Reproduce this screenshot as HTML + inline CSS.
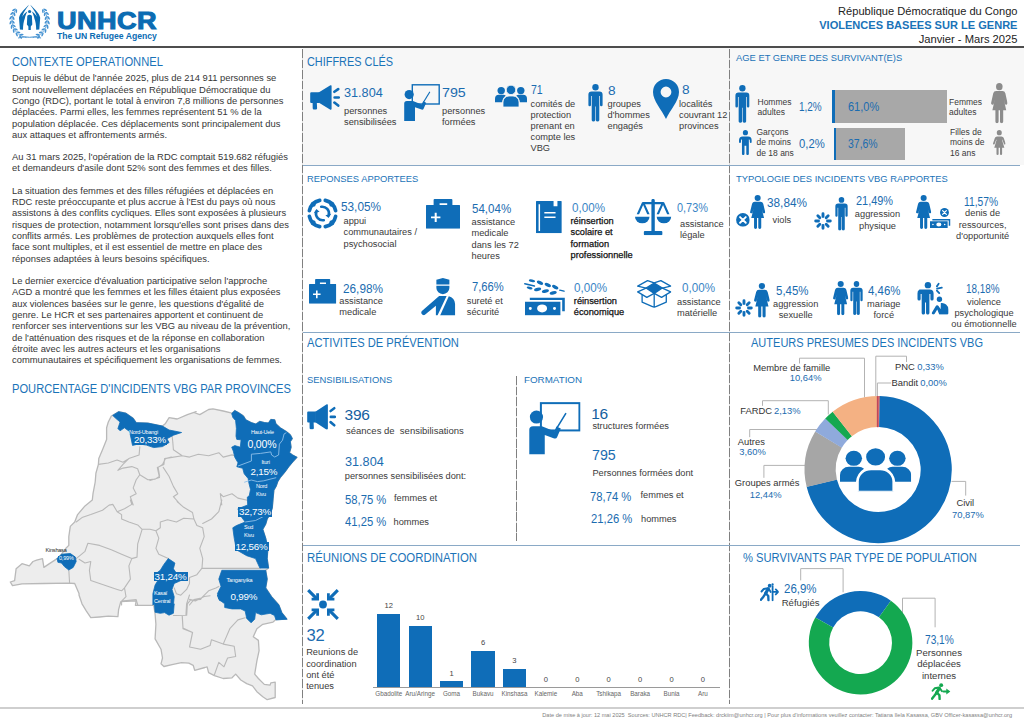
<!DOCTYPE html>
<html lang="fr">
<head>
<meta charset="utf-8">
<title>VBG RDC</title>
<style>
*{margin:0;padding:0;box-sizing:border-box}
html,body{width:1024px;height:724px;overflow:hidden;background:#fff}
body{position:relative;font-family:"Liberation Sans",sans-serif;color:#2b2b2b;font-size:9px}
.a{position:absolute;white-space:nowrap;line-height:1}
.b{color:#1a73b8}
.h1{font-size:11.2px;color:#1a73b8;letter-spacing:0}
.h2{font-size:9.4px;color:#1a73b8}
.n{font-size:13.6px;color:#1b6cb0;letter-spacing:0;transform:scaleX(.9);transform-origin:0 50%}
.t{font-size:9.25px;color:#3a3a3a;line-height:11px}
.hl{position:absolute;height:1px;background:#8aa9c6}
.vd{position:absolute;width:1.2px;background:repeating-linear-gradient(to bottom,#808080 0,#808080 8.6px,rgba(128,128,128,.25) 8.6px,rgba(128,128,128,.25) 10.5px)}
svg{position:absolute;overflow:visible}
.p{position:absolute;left:12px;width:286px;font-size:9.4px;line-height:11.35px;color:#363636;white-space:nowrap}
.ml{position:absolute;white-space:nowrap;line-height:1;color:#fff;letter-spacing:-0.2px}
</style>
</head>
<body>
<svg width="0" height="0" style="position:absolute">
<defs>
<!-- megaphone 30x25 -->
<symbol id="meg" viewBox="0 0 30 25" preserveAspectRatio="none">
 <path d="M1.2 7.3h8v10.6h-8a1 1 0 0 1-1-1v-8.6a1 1 0 0 1 1-1z"/>
 <path d="M2.6 17h4.2l0.3 6.3a1.2 1.2 0 0 1-1.2 1.2h-2a1.2 1.2 0 0 1-1.2-1.2z"/>
 <path d="M8.6 7.6L20 0.4a1 1 0 0 1 1.6.8v22.6a1 1 0 0 1-1.6.8L8.6 17.6z"/>
 <g stroke="currentColor" stroke-width="2.6" stroke-linecap="round" fill="none"><path d="M24.4 6.800l3.800-2.700M24.600 12.500h4.200M24.400 17.600l3.800 3"/></g>
</symbol>
<!-- teacher 36x37 -->
<symbol id="teach" viewBox="0 0 36 37" preserveAspectRatio="none">
 <rect x="8.3" y="0.8" width="26.9" height="19.2" fill="none" stroke="currentColor" stroke-width="1.4"/>
 <circle cx="5.2" cy="10.6" r="4.6"/>
 <path d="M0.2 37V19.6a2.6 2.6 0 0 1 2.6-2.6h6.2l8.6 3.6 1.6-3.4 3 1.5-2.6 6.1a1.6 1.6 0 0 1-2 .8l-6.6-2.4V37z"/>
 <path d="M19.4 18.4L25.6 8.2" stroke="currentColor" stroke-width="1.1" stroke-linecap="round"/>
</symbol>
<!-- group 32x22 -->
<symbol id="grp" viewBox="0 0 32 22" preserveAspectRatio="none">
 <circle cx="6.2" cy="5.6" r="3.7"/><circle cx="25.8" cy="5.6" r="3.7"/>
 <path d="M0 17.2v-3.4a4 4 0 0 1 4-4h4.4a4 4 0 0 1 2.4.9a8.400 8.400 0 0 0-3.600 6.500z"/>
 <path d="M32 17.2v-3.4a4 4 0 0 0-4-4h-4.4a4 4 0 0 0-2.4.9a8.400 8.400 0 0 1 3.600 6.500z"/>
 <circle cx="16" cy="4.900" r="4.700" stroke="#f7f7f7" stroke-width="0.8"/>
 <path d="M8 22v-5a6 6 0 0 1 6-6h4a6 6 0 0 1 6 6v5z" stroke="#f7f7f7" stroke-width="0.8"/>
</symbol>
<!-- man 15x38 -->
<symbol id="man" viewBox="0 0 15 38" preserveAspectRatio="none">
 <circle cx="7.5" cy="3.3" r="3.200"/>
 <path d="M3.600 7.400h7.800a3.200 3.200 0 0 1 3.200 3.200v10.400a1.300 1.300 0 0 1-2.600 0v-9h-0.700v24.200a1.800 1.800 0 0 1-3.500 0v-13.600h-0.600v13.600a1.800 1.800 0 0 1-3.500 0v-24.200h-0.700v9a1.300 1.300 0 0 1-2.600 0v-10.400a3.200 3.200 0 0 1 3.200-3.200z"/>
</symbol>
<!-- woman 17x38 -->
<symbol id="wom" viewBox="0 0 17 38" preserveAspectRatio="none">
 <circle cx="8.5" cy="3.4" r="3.35"/>
 <path d="M5.300 7.500h6.400a3.100 3.100 0 0 1 3 2.200l2.200 9a1.400 1.400 0 0 1-2.700.700l-1.300-4.800l2.700 11h-3.100v10.500a1.650 1.650 0 0 1-3.300 0v-10.500h-1.400v10.500a1.650 1.650 0 0 1-3.300 0v-10.500h-3.100l2.700-11l-1.300 4.800a1.400 1.400 0 0 1-2.700-.700l2.200-9a3.100 3.100 0 0 1 3-2.200z"/>
</symbol>
<!-- pin 26x40 -->
<symbol id="pin" viewBox="0 0 26 40" preserveAspectRatio="none">
 <path fill-rule="evenodd" d="M13 0a13 13 0 0 1 13 13c0 9-9 18-13 27c-4-9-13-18-13-27a13 13 0 0 1 13-13zM13 7.600a5.400 5.400 0 1 0 0 10.800a5.400 5.400 0 1 0 0-10.800z"/>
</symbol>
<symbol id="comm" viewBox="0 0 31 31" preserveAspectRatio="none"><path d="M28.61 18.29A13.4 13.4 0 0 1 18.29 28.61" fill="none" stroke="currentColor" stroke-width="3.7" stroke-linecap="round"/><circle cx="24.83" cy="24.83" r="2.5"/><path d="M12.71 28.61A13.4 13.4 0 0 1 2.39 18.29" fill="none" stroke="currentColor" stroke-width="3.7" stroke-linecap="round"/><circle cx="6.17" cy="24.83" r="2.5"/><path d="M2.39 12.71A13.4 13.4 0 0 1 12.71 2.39" fill="none" stroke="currentColor" stroke-width="3.7" stroke-linecap="round"/><circle cx="6.17" cy="6.17" r="2.5"/><path d="M18.29 2.39A13.4 13.4 0 0 1 28.61 12.71" fill="none" stroke="currentColor" stroke-width="3.7" stroke-linecap="round"/><circle cx="24.83" cy="6.17" r="2.5"/><path d="M14.2 8.8a6.8 6.8 0 0 1 7.6 8.4" fill="none" stroke="currentColor" stroke-width="2.6" stroke-linecap="round"/><path d="M18.4 17.2l3.2 2.8l2.6-4.2z"/><path d="M16.8 22.2a6.8 6.8 0 0 1-7.6-8.4" fill="none" stroke="currentColor" stroke-width="2.6" stroke-linecap="round"/><path d="M12.600 13.800l-3.200-2.800l-2.600 4.200z"/></symbol><symbol id="burst" viewBox="0 0 18 18" preserveAspectRatio="none"><path d="M13.50 9.00L16.30 9.00M12.18 12.18L14.16 14.16M9.00 13.50L9.00 16.30M5.82 12.18L3.84 14.16M4.50 9.00L1.70 9.00M5.82 5.82L3.84 3.84M9.00 4.50L9.00 1.70M12.18 5.82L14.16 3.84" fill="none" stroke="currentColor" stroke-width="2.9" stroke-linecap="round"/></symbol>
<!-- medkit 34x30 -->
<symbol id="kit" viewBox="0 0 34 30" preserveAspectRatio="none">
 <path fill-rule="evenodd" d="M9 0h16.400a1 1 0 0 1 1 1v5h7a.6.6 0 0 1 .6.600v22.800a.6.6 0 0 1-.6.600h-32.800a.6.6 0 0 1-.6-.600v-22.800a.6.600 0 0 1 .6-.600h7v-5a1 1 0 0 1 1-1z
 M13.600 4.300h7.600v1.700h-7.600z M8.700 13.800h2v3.700h3.700v2h-3.700v3.700h-2v-3.700h-3.700v-2h3.700z"/>
</symbol>
<!-- doc 26x33 -->
<symbol id="doc" viewBox="0 0 26 33" preserveAspectRatio="none">
 <path fill-rule="evenodd" d="M0.500 0h17.200v5.400h3.900v-5.400h3.900a.5.500 0 0 1 .5.500v32a.5.500 0 0 1-.5.500h-25a.5.500 0 0 1-.5-.500v-32a.5.500 0 0 1 .5-.500z M2.600 3.400h1.500v27.200h-1.500z M8.400 11.200h11.300v1.500h-11.300z M8.400 15.800h11.300v1.500h-11.300z"/>
</symbol>
<!-- scales 37x36 -->
<symbol id="scal" viewBox="0 0 37 36" preserveAspectRatio="none">
 <path d="M16.500 1.600a1.700 1.700 0 0 1 3.400 0v1.400h8.600l0.900 0.500l5.300 11.700h-2.400l-4.100-9.200l-4.100 9.200h-2.400l4.600-9.900h-6.400v26.500h6.600a1 1 0 0 1 1 1v2.200a1 1 0 0 1-1 1h-16.600a1 1 0 0 1-1-1v-2.200a1 1 0 0 1 1-1h6.600v-26.500h-6.400l4.600 9.900h-2.400l-4.100-9.200l-4.100 9.200h-2.400l5.300-11.700l0.900-0.500h8.600z"/>
 <path d="M0 17.600h14.600a7.300 6.600 0 0 1-14.600 0z"/>
 <path d="M21.800 17.600h14.600a7.300 6.600 0 0 1-14.600 0z"/>
</symbol>
<!-- officer 35x38 -->
<symbol id="offi" viewBox="0 0 35 38" preserveAspectRatio="none">
 <path d="M15.600 1.800l6.600-1.800l6.600 1.800v4.800h-13.200z"/>
 <path d="M15.600 7.900h13.200v2.300a6.600 6.200 0 0 1-13.200 0z"/>
 <path d="M18.400 18.400h7.600l-9.300 19.600h-1.600v-9.800l-10.800 9a2.500 2.500 0 0 1-3.400-3.600z"/>
 <path d="M28.200 18.500a8 8 0 0 1 6.400 7.800v11.700h-15.200z"/>
</symbol>
<!-- money+wheat 41x37 -->
<symbol id="mon" viewBox="0 0 41 37" preserveAspectRatio="none">
 <path fill-rule="evenodd" d="M1 23h35.400v13.400h-35.400z M18.100 25.600a5 4 0 1 0 0 8a5 4 0 1 0 0-8z M6.300 28.200a1.500 1.500 0 1 0 0 3a1.500 1.500 0 1 0 0-3z M30.500 28.200a1.500 1.500 0 1 0 0 3a1.500 1.500 0 1 0 0-3z"/>
 <path d="M5.800 18.800h35v13.600h-2.600v-11.200h-32.400z"/>
 <g stroke="currentColor" stroke-width="1.500" stroke-linecap="round" fill="none"><path d="M0.800 4.800l9.600 2.200M35.800 11.200l4.200 1.000"/></g>
 <g>
  <ellipse cx="8" cy="1.800" rx="3.200" ry="1.300" transform="rotate(10 8 1.800)"/>
  <ellipse cx="5.600" cy="9" rx="3" ry="1.300" transform="rotate(12 5.600 9)"/>
  <ellipse cx="16" cy="3.800" rx="3.400" ry="1.700" transform="rotate(28 16 3.800)"/>
  <ellipse cx="23.800" cy="6" rx="3.400" ry="1.700" transform="rotate(28 23.800 6)"/>
  <ellipse cx="31.200" cy="8.200" rx="3.400" ry="1.700" transform="rotate(28 31.200 8.200)"/>
  <ellipse cx="13.600" cy="10.400" rx="3.600" ry="1.700" transform="rotate(-14 13.600 10.400)"/>
  <ellipse cx="21.400" cy="12.200" rx="3.600" ry="1.700" transform="rotate(-14 21.400 12.200)"/>
  <ellipse cx="29.200" cy="14" rx="3.600" ry="1.700" transform="rotate(-14 29.200 14)"/>
 </g>
</symbol>
<!-- box 35x28 -->
<symbol id="box" viewBox="0 0 35 28" preserveAspectRatio="none">
 <path d="M17.500 3l8.300 5.100l-8.300 5.400l-8.300-5.400z"/>
 <g fill="none" stroke="currentColor" stroke-width="1.350" stroke-linejoin="round">
  <path d="M17.500 3l-6.800-2.400l-10 5.600l8.500 1.900z"/>
  <path d="M17.500 3l6.800-2.400l10 5.600l-8.500 1.900z"/>
  <path d="M9.200 8.100l-8.500 3.900l9.300 5.500l7.500-4z"/>
  <path d="M25.800 8.100l8.500 3.900l-9.300 5.500l-7.500-4z"/>
  <path d="M5.200 14.800v7.400l12.300 5.400l12.300-5.400v-7.400M17.500 13.500v14"/>
 </g>
</symbol>
<!-- xcircle 14x14 -->
<symbol id="xc" viewBox="0 0 14 14" preserveAspectRatio="none">
 <circle cx="7" cy="7" r="6.900"/>
 <path d="M4.100 4.100l5.800 5.800M9.900 4.100l-5.800 5.800" stroke="#fff" stroke-width="1.900" stroke-linecap="round"/>
</symbol>
<!-- money small 21x10 with back bill -->
<symbol id="mon2" viewBox="0 0 21 10" preserveAspectRatio="none">
 <path fill-rule="evenodd" d="M0 2.400h18v7.400h-18z M9 3.800a2.600 2.200 0 1 0 0 4.400a2.600 2.200 0 1 0 0-4.400z M3 5.300a.8.800 0 1 0 0 1.600a.8.800 0 1 0 0-1.600z M15 5.300a.8.800 0 1 0 0 1.600a.8.800 0 1 0 0-1.600z"/>
 <path d="M2.400 0h18.400v7.400h-1.700v-5.900h-16.700z"/>
</symbol>
<!-- psych 34x33 -->
<symbol id="psy" viewBox="0 0 34 33" preserveAspectRatio="none">
 <circle cx="13" cy="3.200" r="3.200"/>
 <path d="M4 7.600h10.200a4 4 0 0 1 4 4v5.400a1.600 1.600 0 0 1-3.200 0v-4.800h-1v19a1.700 1.700 0 0 1-3.400 0v-10.600h-1v10.600a1.700 1.700 0 0 1-3.400 0v-19h-1v4.800a1.600 1.600 0 0 1-3.200 0v-5.400a4 4 0 0 1 2-4z" transform="translate(0.500 0)"/>
 <g stroke="currentColor" stroke-width="1.800" stroke-linecap="round" fill="none"><path d="M22 4.400l1.800-2.600M22.200 6.600l4.800-1.000M22 8.600l2.400 2.600"/></g>
 <circle cx="24.600" cy="17.400" r="2.700"/>
 <path d="M26 21.200a6.500 6.500 0 0 1 7.600 6.400v3.800a1.300 1.300 0 0 1-1.300 1.300h-7.900l-2-5l-2.600 4.300a1.500 1.500 0 0 1-2.600-1.500l3.600-6.200a1.700 1.700 0 0 1 2.900-.1l2.100 3.200z"/>
</symbol>
<!-- child boy 13x25 -->
<symbol id="boy" viewBox="0 0 13 25" preserveAspectRatio="none">
 <circle cx="6.500" cy="2.700" r="2.600"/>
 <path d="M3.800 6.400h5.400a3.800 3.800 0 0 1 3.800 3.800v1.800a1 1 0 0 1-2 0v-1.600a1.400 1.400 0 0 0-1-1.300v14.600a1.300 1.300 0 0 1-2.600 0v-8h-1.800v8a1.300 1.300 0 0 1-2.600 0v-14.600a1.400 1.400 0 0 0-1 1.300v1.600a1 1 0 0 1-2 0v-1.800a3.800 3.800 0 0 1 3.800-3.800z"/>
</symbol>
<!-- child girl 13x25 -->
<symbol id="girl" viewBox="0 0 13 25" preserveAspectRatio="none">
 <circle cx="6.500" cy="2.700" r="2.600"/>
 <path d="M4.200 6.400h4.600a2.400 2.400 0 0 1 2.300 1.600l1.800 5.200a.9.900 0 0 1-1.700.6l-1.500-4.200h-.4l2.400 8.200h-2.300v6a1.100 1.100 0 0 1-2.200 0v-6h-1.400v6a1.100 1.100 0 0 1-2.200 0v-6h-2.300l2.400-8.200h-.4l-1.500 4.200a.9.900 0 0 1-1.700-.6l1.800-5.200a2.400 2.400 0 0 1 2.300-1.600z"/>
</symbol>

<!-- coordination arrows 32x31 -->
<symbol id="coord" viewBox="0 0 32 31" preserveAspectRatio="none">
 <circle cx="16" cy="15.500" r="3.900"/>
 <g stroke="currentColor" stroke-width="3.100" stroke-linecap="butt" fill="none">
  <path d="M1.200 1.200l8.200 8.200M30.800 1.200l-8.200 8.200M1.200 29.800l8.200-8.200M30.800 29.800l-8.200-8.200"/>
 </g>
 <path d="M4.600 11.600h7.400v-7.400h-2.800v4.600h-4.600z M27.400 11.600h-7.400v-7.400h2.800v4.600h4.600z M4.600 19.400h7.400v7.400h-2.800v-4.600h-4.600z M27.400 19.400h-7.400v7.400h2.800v-4.600h4.600z" transform="translate(0 0)"/>
</symbol>
<!-- runner refugee 19x19 -->
<symbol id="run" viewBox="0 0 20 18" preserveAspectRatio="none">
 <circle cx="10.400" cy="2.300" r="2"/>
 <g stroke="currentColor" fill="none" stroke-linecap="round" stroke-linejoin="round">
  <path d="M8.600 5.600l-3 4.800" stroke-width="3.300"/>
  <path d="M5.600 10.600l-2.400 3.200l-2.200 2.800" stroke-width="2.500"/>
  <path d="M6 10.200l2.600 2.800l.2 4" stroke-width="2.500"/>
  <path d="M8.200 4.800l-4.400 .8l-2.200 2.600" stroke-width="2"/>
  <path d="M9.400 6l1.800 2.800" stroke-width="2"/>
  <path d="M12.800 9h4" stroke-width="1.900"/>
 </g>
 <path d="M15.600 5.800l4.200 3.200l-4.200 3.200z"/>
</symbol>
<symbol id="run2" viewBox="0 0 20 19" preserveAspectRatio="none">
 <circle cx="10.300" cy="2.900" r="2"/>
 <circle cx="13.400" cy="1.500" r="1.200"/>
 <g stroke="currentColor" fill="none" stroke-linecap="round" stroke-linejoin="round">
  <path d="M8.800 6l-3 5" stroke-width="3.300"/>
  <path d="M5.800 11l-2.400 3.400l-2.400 3" stroke-width="2.500"/>
  <path d="M6.200 10.600l2.600 2.800l.2 4.400" stroke-width="2.500"/>
  <path d="M8.400 5.400l-4.400 .8l-2.400 2.600" stroke-width="2"/>
  <path d="M9.600 6.400l1.800 2.800" stroke-width="2"/>
  <path d="M13.400 3.200v14.600" stroke-width="1.900"/>
  <path d="M13.600 9.200h5.400M16.800 6.600l2.600 2.600l-2.600 2.600" stroke-width="1.900"/>
 </g>
</symbol>
<symbol id="grpw" viewBox="0 0 32 22" preserveAspectRatio="none">
 <circle cx="6.200" cy="5.600" r="3.700"/><circle cx="25.800" cy="5.600" r="3.700"/>
 <path d="M0 17.200v-3.400a4 4 0 0 1 4-4h4.400a4 4 0 0 1 2.400.9a8.400 8.400 0 0 0-3.600 6.500z"/>
 <path d="M32 17.200v-3.400a4 4 0 0 0-4-4h-4.400a4 4 0 0 0-2.400.9a8.400 8.400 0 0 1 3.600 6.500z"/>
 <circle cx="16" cy="4.900" r="4.700" stroke="#fff" stroke-width="0.900"/>
 <path d="M8 22v-5a6 6 0 0 1 6-6h4a6 6 0 0 1 6 6v5z" stroke="#fff" stroke-width="0.900"/>
</symbol>
</defs>
</svg>
<!-- band -->
<div class="a" style="left:303px;top:48px;width:721px;height:117px;background:#f7f7f7"></div>
<!-- header -->
<div id="hdr">
<svg id="logo" style="left:0;top:0" width="64" height="44" viewBox="0 0 64 44"><g style="color:#3a8ccf" fill="currentColor" opacity="0.95"><ellipse cx="20.51" cy="37.10" rx="2.10" ry="0.85" transform="rotate(-126.0 20.51 37.10)"/><ellipse cx="21.74" cy="34.58" rx="1.90" ry="0.80" transform="rotate(-182.0 21.74 34.58)"/><ellipse cx="16.71" cy="34.45" rx="2.10" ry="0.85" transform="rotate(-112.0 16.71 34.45)"/><ellipse cx="18.51" cy="32.30" rx="1.90" ry="0.80" transform="rotate(-168.0 18.51 32.30)"/><ellipse cx="13.68" cy="30.97" rx="2.10" ry="0.85" transform="rotate(-98.0 13.68 30.97)"/><ellipse cx="15.94" cy="29.33" rx="1.90" ry="0.80" transform="rotate(-154.0 15.94 29.33)"/><ellipse cx="11.59" cy="26.88" rx="2.10" ry="0.85" transform="rotate(-84.0 11.59 26.88)"/><ellipse cx="14.19" cy="25.83" rx="1.90" ry="0.80" transform="rotate(-140.0 14.19 25.83)"/><ellipse cx="10.57" cy="22.42" rx="2.10" ry="0.85" transform="rotate(-70.0 10.57 22.42)"/><ellipse cx="13.35" cy="22.03" rx="1.90" ry="0.80" transform="rotate(-126.0 13.35 22.03)"/><ellipse cx="10.69" cy="17.84" rx="2.10" ry="0.85" transform="rotate(-56.0 10.69 17.84)"/><ellipse cx="13.47" cy="18.14" rx="1.90" ry="0.80" transform="rotate(-112.0 13.47 18.14)"/><ellipse cx="11.93" cy="13.44" rx="2.10" ry="0.85" transform="rotate(-42.0 11.93 13.44)"/><ellipse cx="14.56" cy="14.39" rx="1.90" ry="0.80" transform="rotate(-98.0 14.56 14.39)"/><ellipse cx="14.02" cy="9.72" rx="2.10" ry="0.85" transform="rotate(-29.0 14.02 9.72)"/><ellipse cx="16.37" cy="11.24" rx="1.90" ry="0.80" transform="rotate(-85.0 16.37 11.24)"/><path d="M26.54 37.59L24.75 37.18L23.01 36.59L21.34 35.83L19.76 34.90L18.29 33.81L16.94 32.58L15.73 31.22L14.67 29.74L13.78 28.16L13.06 26.50L12.52 24.77L12.17 23.00L12.01 21.20L12.04 19.40L12.27 17.60L12.68 15.85L13.28 14.14L14.06 12.50L15.01 10.96L16.12 9.51" fill="none" stroke="currentColor" stroke-width="0.8"/><ellipse cx="38.69" cy="37.10" rx="2.10" ry="0.85" transform="rotate(-54.0 38.69 37.10)"/><ellipse cx="37.46" cy="34.58" rx="1.90" ry="0.80" transform="rotate(2.0 37.46 34.58)"/><ellipse cx="42.49" cy="34.45" rx="2.10" ry="0.85" transform="rotate(-68.0 42.49 34.45)"/><ellipse cx="40.69" cy="32.30" rx="1.90" ry="0.80" transform="rotate(-12.0 40.69 32.30)"/><ellipse cx="45.52" cy="30.97" rx="2.10" ry="0.85" transform="rotate(-82.0 45.52 30.97)"/><ellipse cx="43.26" cy="29.33" rx="1.90" ry="0.80" transform="rotate(-26.0 43.26 29.33)"/><ellipse cx="47.61" cy="26.88" rx="2.10" ry="0.85" transform="rotate(-96.0 47.61 26.88)"/><ellipse cx="45.01" cy="25.83" rx="1.90" ry="0.80" transform="rotate(-40.0 45.01 25.83)"/><ellipse cx="48.63" cy="22.42" rx="2.10" ry="0.85" transform="rotate(-110.0 48.63 22.42)"/><ellipse cx="45.85" cy="22.03" rx="1.90" ry="0.80" transform="rotate(-54.0 45.85 22.03)"/><ellipse cx="48.51" cy="17.84" rx="2.10" ry="0.85" transform="rotate(-124.0 48.51 17.84)"/><ellipse cx="45.73" cy="18.14" rx="1.90" ry="0.80" transform="rotate(-68.0 45.73 18.14)"/><ellipse cx="47.27" cy="13.44" rx="2.10" ry="0.85" transform="rotate(-138.0 47.27 13.44)"/><ellipse cx="44.64" cy="14.39" rx="1.90" ry="0.80" transform="rotate(-82.0 44.64 14.39)"/><ellipse cx="45.18" cy="9.72" rx="2.10" ry="0.85" transform="rotate(-151.0 45.18 9.72)"/><ellipse cx="42.83" cy="11.24" rx="1.90" ry="0.80" transform="rotate(-95.0 42.83 11.24)"/><path d="M32.66 37.59L34.45 37.18L36.19 36.59L37.86 35.83L39.44 34.90L40.91 33.81L42.26 32.58L43.47 31.22L44.53 29.74L45.42 28.16L46.14 26.50L46.68 24.77L47.03 23.00L47.19 21.20L47.16 19.40L46.93 17.60L46.52 15.85L45.92 14.14L45.14 12.50L44.19 10.96L43.08 9.51" fill="none" stroke="currentColor" stroke-width="0.8"/><path d="M18.5 37.9Q25 36 29.6 37.3Q34.2 36 40.7 37.9" fill="none" stroke="currentColor" stroke-width="1" stroke-linecap="round"/></g><g fill="#0b6cb3">
<path d="M28.9 4.800C25.800 8.400 20.200 12.200 19 17.800L19.900 29.600L23 29.700C23 25 23.700 21.200 24.800 18.400C25.500 15.400 26.400 13.200 27.400 11.600C25.800 12.400 23.600 14.400 22.400 16.800C23 12.400 26.800 8.600 28.900 4.800Z"/>
<path d="M30.300 4.800C33.400 8.400 39 12.200 40.200 17.800L39.300 29.600L36.200 29.700C36.200 25 35.500 21.200 34.400 18.400C33.700 15.400 32.800 13.200 31.800 11.600C33.400 12.400 35.600 14.400 36.800 16.800C36.200 12.400 32.400 8.600 30.300 4.800Z"/>
<circle cx="29.600" cy="11.500" r="1.600"/>
<path d="M27.300 15.800Q29.600 13.600 31.900 15.800L32.300 24.600L30.800 26.400V30H28.400V26.400L26.900 24.600Z"/>
</g></svg>
<div class="a" style="left:56.8px;top:8.6px;font-size:24.6px;font-weight:bold;color:#0b6cb3;letter-spacing:0.4px;-webkit-text-stroke:1.1px #0b6cb3;transform:scaleX(1.1);transform-origin:0 0">UNHCR</div>
<div class="a" style="left:57px;top:32.3px;font-size:8.65px;font-weight:bold;color:#0b6cb3">The UN Refugee Agency</div>
<div class="a" style="right:6.5px;top:5.8px;font-size:11.1px;color:#222">République Démocratique du Congo</div>
<div class="a" style="right:6.5px;top:19.9px;font-size:11.05px;font-weight:bold;color:#1a73b8">VIOLENCES BASEES SUR LE GENRE</div>
<div class="a" style="right:6.5px;top:33.6px;font-size:11.2px;color:#222">Janvier - Mars 2025</div>
</div>
<div class="a" style="left:0;top:46px;width:1024px;height:2px;background:#4d4d4d"></div>
<!-- structure lines -->
<div class="vd" style="left:301.7px;top:48.5px;height:655px"></div>
<div class="vd" style="left:728.8px;top:48.5px;height:655px"></div>
<div class="hl" style="left:303px;top:165px;width:716.5px"></div>
<div class="hl" style="left:303px;top:332.4px;width:716.5px"></div>
<div class="hl" style="left:303px;top:545px;width:716.5px"></div>
<div class="vd" style="left:515.7px;top:376px;height:165px"></div>
<div class="a" style="left:0;top:707px;width:1024px;height:2px;background:#cfcfcf"></div>

<!-- LEFT COLUMN -->
<div id="left">
<div class="a h1" style="left:12px;top:56.4px;font-size:12px;transform:scaleX(0.933);transform-origin:0 50%">CONTEXTE OPERATIONNEL</div>
<div class="p" style="top:72.4px">Depuis le début de l'année 2025, plus de 214 911 personnes se<br>sont nouvellement déplacées en République Démocratique du<br>Congo (RDC), portant le total à environ 7,8 millions de personnes<br>déplacées. Parmi elles, les femmes représentent 51 % de la<br>population déplacée. Ces déplacements sont principalement dus<br>aux attaques et affrontements armés.</div>
<div class="p" style="top:150.5px">Au 31 mars 2025, l'opération de la RDC comptait 519.682 réfugiés<br>et demandeurs d'asile dont 52% sont des femmes et des filles.</div>
<div class="p" style="top:184.5px">La situation des femmes et des filles réfugiées et déplacées en<br>RDC reste préoccupante et plus accrue à l'Est du pays où nous<br>assistons à des conflits cycliques. Elles sont exposées à plusieurs<br>risques de protection, notamment lorsqu'elles sont prises dans des<br>conflits armés. Les problèmes de protection auxquels elles font<br>face sont multiples, et il est essentiel de mettre en place des<br>réponses adaptées à leurs besoins spécifiques.</div>
<div class="p" style="top:275px">Le dernier exercice d'évaluation participative selon l'approche<br>AGD a montré que les femmes et les filles étaient plus exposées<br>aux violences basées sur le genre, les questions d'égalité de<br>genre. Le HCR et ses partenaires apportent et continuent de<br>renforcer ses interventions sur les VBG au niveau de la prévention,<br>de l'atténuation des risques et de la réponse en collaboration<br>étroite avec les autres acteurs et les organisations<br>communautaires et spécifiquement les organisations de femmes.</div>
<div class="a h1" style="left:12px;top:383.4px;font-size:12px;transform:scaleX(0.928);transform-origin:0 50%">POURCENTAGE D'INCIDENTS VBG PAR PROVINCES</div>
</div>

<!-- MID/RIGHT HEADINGS -->
<div class="a h1" style="left:306.5px;top:56.4px;font-size:12px;transform:scaleX(0.908);transform-origin:0 50%">CHIFFRES CLÉS</div>
<div class="a h2" style="left:736px;top:53px">AGE ET GENRE DES SURVIVANT(E)S</div>
<div class="a h2" style="left:307px;top:174px">REPONSES APPORTEES</div>
<div class="a h2" style="left:736px;top:174px">TYPOLOGIE DES INCIDENTS VBG RAPPORTES</div>
<div class="a h1" style="left:307px;top:336.6px;font-size:12px;transform:scaleX(0.930);transform-origin:0 50%">ACTIVITES DE PRÉVENTION</div>
<div class="a h2" style="left:307px;top:375px">SENSIBILISATIONS</div>
<div class="a h2" style="left:524px;top:374.8px;font-size:9.8px">FORMATION</div>
<div class="a h1" style="left:751px;top:336.6px;font-size:12px;transform:scaleX(0.918);transform-origin:0 50%">AUTEURS PRESUMES DES INCIDENTS VBG</div>
<div class="a h1" style="left:307px;top:551.6px;font-size:12px;transform:scaleX(0.949);transform-origin:0 50%">RÉUNIONS DE COORDINATION</div>
<div class="a h1" style="left:743px;top:551.6px;font-size:12px;transform:scaleX(0.932);transform-origin:0 50%">% SURVIVANTS PAR TYPE DE POPULATION</div>

<!-- CHIFFRES CLES -->
<div id="chiffres" class="b">
<svg style="left:309.5px;top:85px;color:#0f6db8" width="30" height="25" fill="currentColor"><use href="#meg"/></svg>
<div class="a n" style="left:344px;top:85.500px;transform:scaleX(0.932)">31.804</div>
<div class="a t" style="left:344px;top:105.500px">personnes<br>sensibilisées</div>
<svg style="left:403.500px;top:83.500px;color:#0f6db8" width="36" height="37" fill="currentColor"><use href="#teach"/></svg>
<div class="a n" style="left:442px;top:85.500px;transform:scaleX(1.047)">795</div>
<div class="a t" style="left:442px;top:105.500px">personnes<br>formées</div>
<svg style="left:495px;top:84.500px;color:#0f6db8" width="32" height="22" fill="currentColor"><use href="#grp"/></svg>
<div class="a n" style="left:530.500px;top:83px;transform:scaleX(0.777)">71</div>
<div class="a t" style="left:530.500px;top:98.500px">comités de<br>protection<br>prenant en<br>compte les<br>VBG</div>
<svg style="left:588px;top:83.500px;color:#0f6db8" width="15" height="38" fill="currentColor"><use href="#man"/></svg>
<div class="a n" style="left:608px;top:84px;transform:scaleX(1.005)">8</div>
<div class="a t" style="left:607.500px;top:98.500px">groupes<br>d'hommes<br>engagés</div>
<svg style="left:653px;top:78.500px;color:#0f6db8" width="26" height="40" fill="currentColor"><use href="#pin"/></svg>
<div class="a n" style="left:682px;top:82.500px;transform:scaleX(1.005)">8</div>
<div class="a t" style="left:679px;top:99px">localités<br>couvrant 12<br>provinces</div>
</div>
<!-- AGE ET GENRE -->
<div id="age">
<svg style="left:735.2px;top:84.8px;color:#0f6db8" width="14.8" height="38.3" fill="currentColor"><use href="#man"/></svg>
<div class="a t" style="left:757.5px;top:96.5px;line-height:10.4px;font-size:8.5px;top:97px">Hommes<br>adultes</div>
<div class="a n" style="left:798.5px;top:100px;transform:scaleX(0.732)">1,2%</div>
<div class="a" style="left:832.2px;top:90.2px;width:115px;height:32.4px;background:#a8a8a8;border-left:3.2px solid #0f6db8"></div>
<div class="a n" style="left:847.5px;top:99.5px;transform:scaleX(0.809)">61,0%</div>
<div class="a t" style="left:949px;top:96.5px;line-height:10.4px;font-size:8.5px;top:97px">Femmes<br>adultes</div>
<svg style="left:990.6px;top:82.5px;color:#8c8c8c" width="16.6" height="40.6" fill="currentColor"><use href="#wom"/></svg>
<svg style="left:738.6px;top:129.9px;color:#0f6db8" width="12.8" height="25.1" fill="currentColor"><use href="#boy"/></svg>
<div class="a t" style="left:756.5px;top:126.4px;line-height:10.4px;font-size:8.5px;top:127px">Garçons<br>de moins<br>de 18 ans</div>
<div class="a n" style="left:799px;top:137px;transform:scaleX(0.832)">0,2%</div>
<div class="a" style="left:834px;top:127.5px;width:70.6px;height:32.2px;background:#a8a8a8;border-left:2.2px solid #0f6db8"></div>
<div class="a n" style="left:848px;top:137px;transform:scaleX(0.770)">37,6%</div>
<div class="a t" style="left:950px;top:126.4px;line-height:10.4px;font-size:8.5px;top:127px">Filles de<br>moins de<br>16 ans</div>
<svg style="left:993px;top:129.9px;color:#8c8c8c" width="12.6" height="25.1" fill="currentColor"><use href="#girl"/></svg>
</div>
<!-- REPONSES -->
<div id="rep">
<svg style="left:307.4px;top:198.1px;color:#0f6db8" width="31" height="31" fill="currentColor"><use href="#comm"/></svg>
<div class="a n" style="left:341px;top:200.3px;transform:scaleX(0.867)">53,05%</div>
<div class="a t" style="left:343.5px;top:216.2px;line-height:11.3px">appui<br>communautaires /<br>psychosocial</div>
<svg style="left:425.8px;top:198.9px;color:#0f6db8" width="34" height="29.8" fill="currentColor"><use href="#kit"/></svg>
<div class="a n" style="left:472.2px;top:201.8px;transform:scaleX(0.851)">54,04%</div>
<div class="a t" style="left:471.5px;top:216.8px;line-height:11.4px">assistance<br>medicale<br>dans les 72<br>heures</div>
<svg style="left:536.4px;top:201.2px;color:#0f6db8" width="25.8" height="32.3" fill="currentColor"><use href="#doc"/></svg>
<div class="a n" style="left:572px;top:200.6px;color:#3b86c6;transform:scaleX(0.856)">0,00%</div>
<div class="a t" style="left:570.5px;top:216.2px;line-height:11.2px;color:#111;-webkit-text-stroke:0.25px #111">réinsertion<br>scolaire et<br>formation<br>professionnelle</div>
<svg style="left:635.1px;top:199.3px;color:#0f6db8" width="36.8" height="36.2" fill="currentColor"><use href="#scal"/></svg>
<div class="a n" style="left:677px;top:200.6px;color:#3b86c6;transform:scaleX(0.804)">0,73%</div>
<div class="a t" style="left:680px;top:218.8px;line-height:11px">assistance<br>légale</div>
<svg style="left:308.8px;top:278.6px;color:#0f6db8" width="27.3" height="24.8" fill="currentColor"><use href="#kit"/></svg>
<div class="a n" style="left:342.8px;top:282px;transform:scaleX(0.867)">26,98%</div>
<div class="a t" style="left:339.3px;top:295.5px;line-height:11.2px">assistance<br>medicale</div>
<svg style="left:421.4px;top:278px;color:#0f6db8" width="34.5" height="37.4" fill="currentColor"><use href="#offi"/></svg>
<div class="a n" style="left:471.8px;top:280px;transform:scaleX(0.823)">7,66%</div>
<div class="a t" style="left:466.8px;top:295.5px;line-height:11.2px">sureté et<br>sécurité</div>
<svg style="left:523.8px;top:278.6px;color:#0f6db8" width="41" height="36.8" fill="currentColor"><use href="#mon"/></svg>
<div class="a n" style="left:574px;top:281px;color:#3b86c6;transform:scaleX(0.856)">0,00%</div>
<div class="a t" style="left:573.8px;top:295.5px;line-height:11.2px;color:#111;-webkit-text-stroke:0.25px #111">réinsertion<br>économique</div>
<svg style="left:637.4px;top:280.4px;color:#0f6db8" width="34.4" height="27.8" fill="currentColor"><use href="#box"/></svg>
<div class="a n" style="left:682px;top:281.4px;color:#3b86c6;transform:scaleX(0.856)">0,00%</div>
<div class="a t" style="left:677px;top:296.7px;line-height:11.2px">assistance<br>matérielle</div>
</div>
<!-- TYPOLOGIE -->
<div id="typ">
<svg style="left:736px;top:213.1px;color:#0f6db8" width="13.8" height="13.8" fill="currentColor"><use href="#xc"/></svg>
<svg style="left:750.4px;top:194.8px;color:#0f6db8" width="15.3" height="34.3" fill="currentColor"><use href="#wom"/></svg>
<div class="a n" style="left:767px;top:196.2px;transform:scaleX(0.867)">38,84%</div>
<div class="a t" style="left:772.6px;top:215.2px;">viols</div>
<svg style="left:814.3px;top:212.3px;color:#0f6db8" width="18" height="18" fill="currentColor"><use href="#burst"/></svg>
<svg style="left:834.8px;top:197px;color:#0f6db8" width="13" height="33.8" fill="currentColor"><use href="#man"/></svg>
<div class="a n" style="left:856px;top:194.4px;transform:scaleX(0.802)">21,49%</div>
<div class="a t" style="left:817.5px;width:120px;text-align:center;top:208.8px;line-height:11.7px">aggression<br>physique</div>
<svg style="left:915.5px;top:195.3px;color:#0f6db8" width="15.3" height="34.3" fill="currentColor"><use href="#wom"/></svg>
<svg style="left:939.8px;top:208.4px;color:#0f6db8" width="9" height="9" fill="currentColor"><use href="#xc"/></svg>
<svg style="left:929.7px;top:218.6px;color:#0f6db8" width="20.6" height="9.2" fill="currentColor"><use href="#mon2"/></svg>
<div class="a n" style="left:963.5px;top:194.6px;transform:scaleX(0.754)">11,57%</div>
<div class="a t" style="left:922.6px;width:120px;text-align:center;top:207.8px;line-height:11.7px">denis de<br>ressources,<br>d'opportunité</div>
<svg style="left:735.3px;top:299.3px;color:#0f6db8" width="18" height="18" fill="currentColor"><use href="#burst"/></svg>
<svg style="left:754px;top:283px;color:#0f6db8" width="15.8" height="34.8" fill="currentColor"><use href="#wom"/></svg>
<div class="a n" style="left:776.4px;top:284.4px;transform:scaleX(0.845)">5,45%</div>
<div class="a t" style="left:735.7px;width:120px;text-align:center;top:299.2px;line-height:11px">aggression<br>sexuelle</div>
<svg style="left:832.8px;top:281.3px;color:#0f6db8" width="15.4" height="34.4" fill="currentColor"><use href="#wom"/></svg>
<svg style="left:849.6px;top:281.3px;color:#0f6db8" width="13" height="34.4" fill="currentColor"><use href="#man"/></svg>
<div class="a n" style="left:867.5px;top:283.8px;transform:scaleX(0.843)">4,46%</div>
<div class="a t" style="left:823.8px;width:120px;text-align:center;top:298.6px;line-height:11px">mariage<br>forcé</div>
<svg style="left:915.4px;top:281.6px;color:#0f6db8" width="33.8" height="32.8" fill="currentColor"><use href="#psy"/></svg>
<div class="a n" style="left:966.3px;top:282.2px;transform:scaleX(0.726)">18,18%</div>
<div class="a t" style="left:924px;width:120px;text-align:center;top:296.8px;line-height:11.3px">violence<br>psychologique<br>ou émotionnelle</div>
</div>
<!-- MAP -->
<svg id="map" style="left:0;top:0" width="300" height="710" viewBox="0 0 300 710">
<path d="M111.3 416.1L112.7 415.4L118.6 411.7L125.9 413.2L133.2 418.3L136.2 422.7L147.9 423.1L162.5 426.1L165.5 423.4L169.1 417.6L177.2 419.0L187.4 414.6L196.2 411.7L193.9 412.5L199.8 414.6L208.6 409.5L213.0 408.8L223.2 411.0L232.0 413.2L231.7 413.6L234.8 410.5L238.8 412.8L243.4 415.9L245.8 419.8L251.2 422.6L255.9 424.1L259.8 421.4L264.5 422.6L268.4 423.0L270.8 419.5L274.7 419.8L275.9 423.8L280.2 427.7L286.4 431.6L290.3 434.7L292.3 438.6L290.3 441.7L291.1 447.2L289.5 452.7L292.7 455.0L297.0 457.3L293.4 461.2L288.8 466.7L284.8 472.2L280.2 477.7L277.8 481.6L276.2 486.2L273.9 490.2L273.1 498.8L272.3 508.0L270.1 514.6L267.2 519.0L265.7 524.2L262.8 529.3L265.7 538.1L267.9 548.3L267.2 558.6L268.6 568.1L265.7 570.3L267.2 579.1L265.7 587.9L271.6 596.7L278.9 605.0L281.8 612.6L287.0 619.2L276.0 619.6L273.0 622.1L262.8 624.3L256.9 628.7L253.3 636.7L258.4 640.4L259.1 650.7L256.9 660.9L254.7 674.1L258.4 678.5L264.3 684.4L270.1 685.1L270.8 682.9L275.2 682.2L275.2 697.5L267.2 699.7L262.8 696.8L256.9 691.7L252.5 685.8L246.7 683.6L240.8 680.0L235.7 674.1L232.0 677.8L223.2 678.5L214.4 675.6L208.6 672.6L207.1 666.8L204.9 667.5L194.7 670.4L193.2 665.3L188.8 663.1L181.5 662.7L172.0 664.6L163.9 666.5L161.0 663.8L162.5 658.0L161.0 649.2L155.1 638.9L155.9 624.3L155.1 614.0L153.7 605.3L135.4 605.3L136.2 600.9L120.8 601.6L118.6 609.6L117.9 616.7L108.3 616.2L99.5 617.0L90.8 617.7L86.4 611.1L82.0 603.8L79.0 595.0L79.1 593.7L74.7 583.5L68.8 583.2L43.9 583.5L22.0 583.8L12.5 585.7L10.3 582.0L14.6 580.6L16.1 568.8L22.0 563.7L29.3 565.9L33.0 561.5L36.6 560.1L42.5 558.6L43.9 567.4L48.3 564.4L57.1 558.6L61.5 554.2L65.9 548.3L68.8 545.4L68.8 536.6L70.3 526.4L74.7 522.0L77.6 514.6L85.0 505.9L92.3 500.0L93.0 493.7L95.2 482.0L95.9 473.2L98.4 464.4L98.8 458.6L102.5 449.8L106.6 439.5L106.6 427.8L108.3 422.0Z" fill="#ededed" stroke="#b9b9b9" stroke-width="1.3" stroke-linejoin="round"/>
<path d="M98.4 464.4L108.3 463.0L117.1 460.1L123.0 462.3L128.8 458.6L139.1 454.9L139.8 446.9M117.9 470.3L123.0 468.1L131.8 466.6L137.6 468.8L139.8 474.7L136.2 479.8L133.2 487.9L136.2 493.7L130.3 496.7L133.2 505.0M117.9 470.3L123.0 464.4L128.8 458.6M139.8 474.7L147.9 479.8L155.2 479.1L159.6 476.2L158.1 467.4L162.5 464.4L165.5 458.6L171.3 457.1M172.7 441.0L173.4 449.8L182.2 455.7L189.5 457.1L198.3 454.2L208.6 455.7L218.8 452.7L223.2 457.1L232.0 454.9L235.0 455.7M172.7 441.0L172.0 435.2L167.6 433.7M182.2 455.7L169.0 457.9L164.6 458.6L163.9 464.4L157.3 467.4L159.5 477.6L150.0 480.6M163.2 467.4L169.0 476.2L173.4 486.4L177.8 493.7L173.4 496.7L180.8 505.0M220.3 493.7L223.2 496.7L232.0 493.7L237.9 498.1L247.4 500.3M220.3 493.7L221.8 505.0M177.1 501.5L183.7 507.3L192.5 512.5L193.9 519.0L196.9 525.6L202.7 527.8L204.2 536.6L199.8 548.3L202.7 558.6L202.0 568.1M193.9 519.0L183.7 518.3L176.4 522.0L167.6 519.8L160.3 522.0L160.3 527.8L155.9 530.8L158.8 538.1L155.9 548.3L158.8 554.2L168.3 558.6M202.7 523.4L211.5 519.0L218.8 511.7L221.8 500.0M150.0 529.3L155.9 530.8M202.0 568.4L259.9 568.4M202.0 568.1L196.9 574.7L189.5 577.6L189.5 583.5L186.6 589.4L180.8 595.2L176.4 593.7L174.2 587.9M189.5 605.0L193.9 599.6L201.3 598.1L208.6 590.8L215.9 587.9L218.8 586.4M76.2 522.0L82.0 517.6L90.8 514.6L102.5 510.3L109.1 505.1L112.8 504.4L117.2 511.7L121.6 514.6L121.6 519.0L128.9 522.0L137.7 524.9L142.1 529.3L150.0 529.3M117.2 511.7L124.5 508.8L131.8 504.4L130.4 500.0M142.1 529.3L137.7 543.9L137.0 557.1L131.8 558.6L121.6 554.2L111.3 549.8L99.6 545.4L87.9 543.2L85.0 551.3L76.2 558.6M131.8 558.6L128.9 565.9L130.4 579.1L124.5 587.9L121.6 590.8L117.2 589.4L108.4 586.4L99.6 583.5L90.8 580.6L89.4 570.3L90.8 561.5L85.0 563.0L79.1 559.3M124.5 587.9L126.0 596.7L121.6 601.1L121.6 605.0M121.6 601.1L136.2 599.6L137.7 605.0M68.8 570.0L69.6 583.2M175.0 615.5L186.7 615.2L187.4 603.8L190.4 600.1L200.6 599.4L204.3 595.0M182.3 615.5L183.0 628.0L192.6 632.4L189.6 647.0L200.6 649.2L210.0 645.5M182.2 616.2L183.0 628.7L192.5 632.4L189.5 647.0L200.5 649.2L210.1 645.5L211.5 639.7L223.2 644.1L234.2 646.3L235.7 656.5L227.6 658.0L224.0 666.8L218.8 662.4L214.4 674.8M223.2 644.1L229.8 628.7L237.9 619.9L245.2 617.7M189.5 595.0L186.6 603.8L185.9 615.5L173.4 615.5M189.5 599.4L195.4 600.9L204.2 596.5L210.1 595.7" fill="none" stroke="#b9b9b9" stroke-width="1.1" stroke-linejoin="round" stroke-linecap="round"/>
<path d="M112.7 415.4L118.6 411.7L125.9 413.2L133.2 418.3L136.2 422.7L147.9 423.1L162.5 426.1L169.1 430.0L181.6 432.5L173.5 435.2L166.9 438.8L169.1 442.5L162.5 446.6L153.7 447.6L146.4 445.1L139.1 443.9L132.5 445.4L131.0 438.1L129.6 431.5L124.4 427.8L120.1 430.8L117.9 428.6L120.1 422.0L115.7 418.3Z" fill="#0f6db8" stroke="#0f6db8" stroke-width="0.8" stroke-linejoin="round"/>
<path d="M231.7 413.6L234.8 410.5L238.8 412.8L243.4 415.9L245.8 419.8L251.2 422.6L255.9 424.1L259.8 421.4L264.5 422.6L268.4 423.0L270.8 419.5L274.7 419.8L275.9 423.8L280.2 427.7L286.4 431.6L290.3 434.7L292.3 438.6L290.3 441.7L291.1 447.2L289.5 452.7L292.7 455.0L297.0 457.3L293.4 461.2L288.8 466.7L284.8 472.2L280.2 477.7L277.8 481.6L276.2 486.2L273.9 490.2L273.1 498.8L272.3 508.0L270.1 514.6L267.2 519.0L265.7 524.2L262.8 529.3L265.7 538.1L267.9 548.3L267.2 558.6L268.6 568.1L259.9 568.1L255.5 558.6L246.7 555.7L236.4 549.8L234.2 538.1L232.8 527.8L236.4 525.6L245.2 522.0L240.8 516.1L237.9 508.8L247.7 505.0L247.3 497.2L249.3 495.6L250.5 489.4L248.9 483.1L248.1 478.4L244.2 473.8L242.7 468.3L236.8 466.7L238.0 462.8L234.8 457.3L233.3 451.1L231.7 447.2L234.8 445.6L240.3 447.2L241.1 439.8L236.8 439.4L236.0 436.2L236.4 428.4L235.6 420.6L232.9 417.5Z" fill="#0f6db8" stroke="#0f6db8" stroke-width="0.8" stroke-linejoin="round"/>
<path d="M221.8 570.3L265.7 570.3L267.2 579.1L265.7 587.9L271.6 596.7L278.9 605.0L281.8 612.6L287.0 619.2L276.0 619.9L274.5 615.5L270.1 613.3L261.3 614.8L255.5 612.6L254.7 619.2L251.1 622.8L246.7 618.4L245.2 611.1L240.8 608.9L232.0 608.9L224.7 607.5L224.7 603.8L218.8 599.4L217.4 595.0L220.3 601.1L217.4 593.7L221.0 586.4L218.8 579.1Z" fill="#0f6db8" stroke="#0f6db8" stroke-width="0.8" stroke-linejoin="round"/>
<path d="M168.3 558.6L174.9 563.0L173.4 568.8L176.4 573.2L183.0 576.2L180.8 580.6L174.2 583.5L172.0 589.4L174.2 596.7L173.4 605.0L174.2 603.8L173.4 613.3L169.0 615.2L164.6 612.6L160.3 613.3L155.1 612.3L154.4 603.8L152.9 605.0L152.9 593.7L155.1 585.0L158.8 579.1L154.4 574.7L160.3 570.3L163.9 564.4Z" fill="#0f6db8" stroke="#0f6db8" stroke-width="0.8" stroke-linejoin="round"/>
<path d="M57.1 558.6L61.5 554.2L70.3 553.5L75.4 557.1L76.2 561.5L73.2 567.4L68.8 570.0L64.4 566.6L61.5 563.0L57.9 562.3Z" fill="#0f6db8" stroke="#0f6db8" stroke-width="0.8" stroke-linejoin="round"/>
<path d="M251.4 461.0L251.4 454.2L260.6 453.4L270.8 451.9L271.6 455.0L274.7 457.0L278.6 455.0L279.4 444.1L282.5 440.2L284.1 433.9L286.4 432.7M238.0 466.0L251.4 461.0M244.2 482.3L251.2 480.0L257.5 481.6L263.8 480.8L270.0 479.2L276.2 477.7M245.2 522.0L255.5 520.5L267.2 514.6" fill="none" stroke="#8ec0ea" stroke-width="0.9" stroke-linejoin="round"/>
</svg>
<div class="ml" style="left:129px;top:429.5px;font-size:5.5px">Nord-Ubangi</div>
<div class="ml" style="background:#0f6db8;padding:0 1px;margin-left:-1px;left:134px;top:435px;font-size:9.8px">20,33%</div>
<div class="ml" style="left:251px;top:429.5px;font-size:5.5px">Haut-Uele</div>
<div class="ml" style="background:#0f6db8;padding:0 1px;margin-left:-1px;left:247.5px;top:439px;font-size:10.5px">0,00%</div>
<div class="ml" style="left:261.500px;top:459.5px;font-size:5.5px">Ituri</div>
<div class="ml" style="background:#0f6db8;padding:0 1px;margin-left:-1px;left:250.500px;top:467px;font-size:9.8px">2,15%</div>
<div class="ml" style="left:256px;top:483.500px;font-size:5.5px">Nord</div>
<div class="ml" style="left:256px;top:491.5px;font-size:5.5px">Kivu</div>
<div class="ml" style="background:#0f6db8;padding:0 1px;margin-left:-1px;left:239px;top:507px;font-size:9.8px">32,73%</div>
<div class="ml" style="left:244px;top:525px;font-size:5.5px">Sud</div>
<div class="ml" style="left:244px;top:532.5px;font-size:5.5px">Kivu</div>
<div class="ml" style="background:#0f6db8;padding:0 1px;margin-left:-1px;left:235.500px;top:541.500px;font-size:9.8px">12,56%</div>
<div class="ml" style="left:226.500px;top:577.5px;font-size:5.5px">Tanganyika</div>
<div class="ml" style="background:#0f6db8;padding:0 1px;margin-left:-1px;left:230.500px;top:591.5px;font-size:9.8px">0,99%</div>
<div class="ml" style="background:#0f6db8;padding:0 1px;margin-left:-1px;left:154.500px;top:571.5px;font-size:9.8px">31,24%</div>
<div class="ml" style="left:154px;top:590.500px;font-size:5.5px">Kasaï</div>
<div class="ml" style="left:154px;top:598.500px;font-size:5.5px">Central</div>
<div class="ml" style="left:45.500px;top:547.5px;font-size:5.5px;color:#222">Kinshasa</div>
<div class="ml" style="background:#0f6db8;padding:0 1px;margin-left:-1px;left:59px;top:556px;font-size:5.5px">0,99%</div>
<!-- /MAP -->
<!-- PREVENTION -->
<div id="prev">
<svg style="left:307.2px;top:403.8px;color:#0f6db8" width="29" height="25.8" fill="currentColor"><use href="#meg"/></svg>
<div class="a n" style="left:344.6px;top:407.4px;font-size:15.5px;letter-spacing:-0.3px;color:#14609f;transform:none">396</div>
<div class="a t" style="left:346px;top:424.6px;font-size:9.5px">séances de&nbsp; sensibilisations</div>
<div class="a n" style="left:345.2px;top:455px;transform:scaleX(0.932)">31.804</div>
<div class="a t" style="left:344.8px;top:471.2px;">personnes sensibilisées dont:</div>
<div class="a n" style="left:344.8px;top:493.6px;font-size:12.5px">58,75 %</div>
<div class="a t" style="left:394px;top:493px;">femmes et</div>
<div class="a n" style="left:345px;top:515.6px;font-size:12.5px">41,25 %</div>
<div class="a t" style="left:393.5px;top:517px;">hommes</div>
<svg style="left:528.6px;top:402px;color:#0f6db8" width="51.6" height="52.6" fill="currentColor"><use href="#teach"/></svg>
<div class="a n" style="left:591.2px;top:405.6px;font-size:15.5px;letter-spacing:-0.3px;color:#14609f;transform:none">16</div>
<div class="a t" style="left:592.4px;top:421.2px;">structures formées</div>
<div class="a n" style="left:592.4px;top:448.4px;font-size:14.500px;transform:scaleX(0.982)">795</div>
<div class="a t" style="left:592.4px;top:468px;">Personnes formées dont</div>
<div class="a n" style="left:590.4px;top:490.6px;font-size:12.5px">78,74 %</div>
<div class="a t" style="left:640.5px;top:490.4px;">femmes et</div>
<div class="a n" style="left:590.8px;top:513.2px;font-size:12.5px">21,26 %</div>
<div class="a t" style="left:641px;top:513.6px;">hommes</div>
</div>
<!-- COORD -->
<div id="coord_s">
<svg style="left:306.8px;top:589.2px;color:#0f6db8" width="32" height="31" fill="currentColor"><use href="#coord"/></svg>
<div class="a n" style="left:306.6px;top:627.6px;font-size:16.6px;letter-spacing:-0.2px;transform:none">32</div>
<div class="a t" style="left:306.2px;top:647.4px;line-height:11.350px">Reunions de<br>coordination<br>ont été<br>tenues</div>
<div class="a" style="left:373px;top:687.1999999999999px;width:347px;height:1.200px;background:#9a9a9a"></div>
<div class="a" style="left:377.1px;top:613.6px;width:23.3px;height:73.7px;background:#0f6db8"></div>
<div class="a" style="left:367.1px;width:43.3px;text-align:center;top:602.0px;font-size:7.600px;color:#444">12</div>
<div class="a" style="left:367.1px;width:43.3px;text-align:center;top:691.400px;font-size:6.300px;color:#666">Gbadolite</div>
<div class="a" style="left:408.5px;top:625.9px;width:23.3px;height:61.4px;background:#0f6db8"></div>
<div class="a" style="left:398.5px;width:43.3px;text-align:center;top:614.3px;font-size:7.600px;color:#444">10</div>
<div class="a" style="left:398.5px;width:43.3px;text-align:center;top:691.400px;font-size:6.300px;color:#666">Aru/Aringe</div>
<div class="a" style="left:439.9px;top:681.2px;width:23.3px;height:6.1px;background:#0f6db8"></div>
<div class="a" style="left:429.9px;width:43.3px;text-align:center;top:669.6px;font-size:7.600px;color:#444">1</div>
<div class="a" style="left:429.9px;width:43.3px;text-align:center;top:691.400px;font-size:6.300px;color:#666">Goma</div>
<div class="a" style="left:471.4px;top:650.5px;width:23.3px;height:36.8px;background:#0f6db8"></div>
<div class="a" style="left:461.4px;width:43.3px;text-align:center;top:638.9px;font-size:7.600px;color:#444">6</div>
<div class="a" style="left:461.4px;width:43.3px;text-align:center;top:691.400px;font-size:6.300px;color:#666">Bukavu</div>
<div class="a" style="left:502.8px;top:668.9px;width:23.3px;height:18.4px;background:#0f6db8"></div>
<div class="a" style="left:492.8px;width:43.3px;text-align:center;top:657.3px;font-size:7.600px;color:#444">3</div>
<div class="a" style="left:492.8px;width:43.3px;text-align:center;top:691.400px;font-size:6.300px;color:#666">Kinshasa</div>
<div class="a" style="left:524.2px;width:43.3px;text-align:center;top:675.7px;font-size:7.600px;color:#444">0</div>
<div class="a" style="left:524.2px;width:43.3px;text-align:center;top:691.400px;font-size:6.300px;color:#666">Kalemie</div>
<div class="a" style="left:555.6px;width:43.3px;text-align:center;top:675.7px;font-size:7.600px;color:#444">0</div>
<div class="a" style="left:555.6px;width:43.3px;text-align:center;top:691.400px;font-size:6.300px;color:#666">Aba</div>
<div class="a" style="left:587.0px;width:43.3px;text-align:center;top:675.7px;font-size:7.600px;color:#444">0</div>
<div class="a" style="left:587.0px;width:43.3px;text-align:center;top:691.400px;font-size:6.300px;color:#666">Tshikapa</div>
<div class="a" style="left:618.5px;width:43.3px;text-align:center;top:675.7px;font-size:7.600px;color:#444">0</div>
<div class="a" style="left:618.5px;width:43.3px;text-align:center;top:691.400px;font-size:6.300px;color:#666">Baraka</div>
<div class="a" style="left:649.9px;width:43.3px;text-align:center;top:675.7px;font-size:7.600px;color:#444">0</div>
<div class="a" style="left:649.9px;width:43.3px;text-align:center;top:691.400px;font-size:6.300px;color:#666">Bunia</div>
<div class="a" style="left:681.3px;width:43.3px;text-align:center;top:675.7px;font-size:7.600px;color:#444">0</div>
<div class="a" style="left:681.3px;width:43.3px;text-align:center;top:691.400px;font-size:6.300px;color:#666">Aru</div>
</div>
<!-- DONUT1 -->
<div id="donut1">
<svg style="left:0;top:0" width="1024" height="724"><g fill="none" stroke="#b3b3b3" stroke-width="1"><path d="M799.500 363.500V358.200H864.500V397.500"/><path d="M906.500 362V356.200H875.800V396.500"/><path d="M891 383H877.400V396.500"/><path d="M762.500 405.800V400.700H828.300V414.500"/><path d="M749.700 437.200V429.500H817"/><path d="M763.900 477.800V465.400H805"/><path d="M951.500 481.400H965.700V495.600"/></g><path d="M878.20 396.00A73.6 73.6 0 0 1 879.92 396.02L879.19 427.11A42.5 42.5 0 0 0 878.20 427.10Z" fill="#e0605a"/><path d="M879.73 396.02A73.6 73.6 0 1 1 806.65 486.85L836.88 479.56A42.5 42.5 0 1 0 879.08 427.11Z" fill="#0f6db8"/><path d="M806.70 487.04A73.6 73.6 0 0 1 815.26 431.45L841.86 447.57A42.5 42.5 0 0 0 836.91 479.67Z" fill="#a6a6a6"/><path d="M815.16 431.61A73.6 73.6 0 0 1 825.42 418.30L847.72 439.98A42.5 42.5 0 0 0 841.80 447.66Z" fill="#8faadc"/><path d="M825.29 418.44A73.6 73.6 0 0 1 832.74 411.72L851.95 436.18A42.5 42.5 0 0 0 847.64 440.06Z" fill="#14a850"/><path d="M832.58 411.84A73.6 73.6 0 0 1 878.39 396.00L878.31 427.10A42.5 42.5 0 0 0 851.86 436.25Z" fill="#f4b183"/><path d="M877.700 396.100V427.200" stroke="#c0465c" stroke-width="1.700" fill="none"/></svg>
<svg style="left:840.2px;top:446.6px;color:#0f6db8" width="71.2" height="44.6" fill="currentColor"><use href="#grpw"/></svg>
<div class="a" style="left:753.2px;top:363.2px;font-size:9.400px;color:#333;">Membre de famille</div>
<div class="a" style="left:789.7px;top:372.8px;font-size:9.400px;color:#1b6cb0;">10,64%</div>
<div class="a" style="left:895px;top:362px;font-size:9.400px;color:#333;">PNC</div>
<div class="a" style="left:917.3px;top:362px;font-size:9.400px;color:#1b6cb0;">0,33%</div>
<div class="a" style="left:891.5px;top:378.2px;font-size:9.400px;color:#333;">Bandit</div>
<div class="a" style="left:920.3px;top:378.2px;font-size:9.400px;color:#1b6cb0;">0,00%</div>
<div class="a" style="left:740.2px;top:406.4px;font-size:9.400px;color:#333;">FARDC</div>
<div class="a" style="left:774px;top:406.4px;font-size:9.400px;color:#1b6cb0;">2,13%</div>
<div class="a" style="left:737.8px;top:437px;font-size:9.400px;color:#333;">Autres</div>
<div class="a" style="left:739.3px;top:447.2px;font-size:9.400px;color:#1b6cb0;">3,60%</div>
<div class="a" style="left:734.8px;top:477.6px;font-size:9.400px;color:#333;">Groupes armés</div>
<div class="a" style="left:749.7px;top:490.2px;font-size:9.400px;color:#1b6cb0;">12,44%</div>
<div class="a" style="left:956.5px;top:498.4px;font-size:9.400px;color:#333;">Civil</div>
<div class="a" style="left:952px;top:509.8px;font-size:9.400px;color:#1b6cb0;">70,87%</div>
</div>
<!-- DONUT2 -->
<div id="donut2">
<svg style="left:0;top:0" width="1024" height="724"><g fill="none" stroke="#b3b3b3" stroke-width="1"><path d="M800.700 580.400V568.600H843.100V592.300"/><path d="M902.500 613.700V598.200H935.100V627.300"/></g><path d="M815.29 617.59A51.8 51.8 0 0 1 890.90 600.69L878.97 617.23A31.4 31.4 0 0 0 833.14 627.48Z" fill="#0f6db8"/><path d="M890.90 600.69A51.8 51.8 0 1 1 815.29 617.59L833.14 627.48A31.4 31.4 0 1 0 878.97 617.23Z" fill="#14a850"/></svg>
<svg style="left:760px;top:582.8px;color:#0f6db8" width="18.8" height="18.4" fill="currentColor"><use href="#run2"/></svg>
<div class="a n" style="left:783.8px;top:582.2px;transform:scaleX(0.845)">26,9%</div>
<div class="a t" style="left:781.7px;top:596.8px;font-size:9.600px">Réfugiés</div>
<div class="a n" style="left:924.7px;top:632.6px;transform:scaleX(0.747)">73,1%</div>
<div class="a t" style="left:879px;width:120px;text-align:center;top:647px;line-height:11.45px;font-size:9.6px">Personnes<br>déplacées<br>internes</div>
<svg style="left:931.3px;top:682.8px;color:#14a850" width="19.6" height="17" fill="currentColor"><use href="#run"/></svg>
</div>
<div class="a" style="right:12px;top:713.400px;font-size:5.600px;color:#808080">Date de mise à jour: 12 mai 2025&nbsp; Sources: UNHCR RDC| Feedback: drckiim@unhcr.org | Pour plus d'informations veuillez contacter: Tatiana Ilela Kasassa, GBV Officer-kasassa@unhcr.org</div>
<!--SECTIONS-->
</body>
</html>
